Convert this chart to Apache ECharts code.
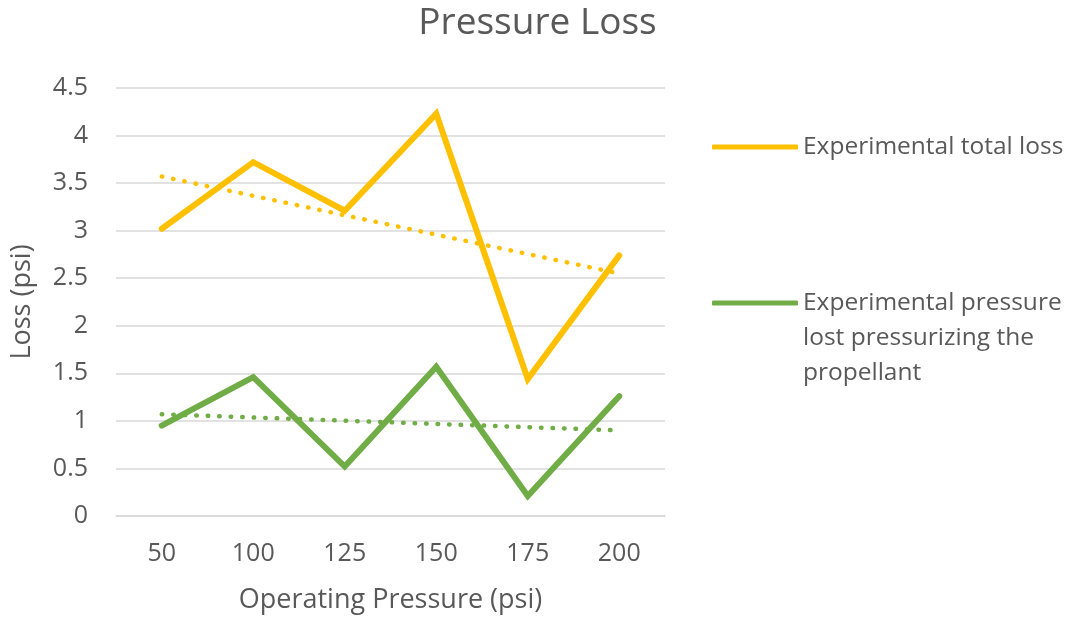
<!DOCTYPE html>
<html>
<head>
<meta charset="utf-8">
<script src="https://cdn.jsdelivr.net/npm/echarts@6/dist/echarts.min.js"></script>
<style>
html,body{margin:0;padding:0;background:#fff;}
#chart{width:1075px;height:619px;}
</style>
</head>
<body>
<div id="chart"></div>
<script>
var categories = ['50', '100', '125', '150', '175', '200'];
var totalLoss = [3.02, 3.72, 3.21, 4.23, 1.44, 2.74];
var propellantLoss = [0.95, 1.46, 0.52, 1.57, 0.21, 1.26];
// linear trendline endpoints (at first and last category)
var totalTrendEnds = [3.57, 2.55];
var propellantTrendEnds = [1.07, 0.90];
var yTicks = [0, 0.5, 1, 1.5, 2, 2.5, 3, 3.5, 4, 4.5];

var nameTotal = 'Experimental total loss';
var nameProp = 'Experimental pressure lost pressurizing the propellant';

function trendSeries(ends) {
  var d = categories.map(function(){ return null; });
  d[0] = ends[0];
  d[d.length - 1] = ends[1];
  return d;
}

var FONT = 'Open Sans';
var GREY = '#595959';
var ORANGE = '#FFC000';
var GREEN = '#70AD47';
var LEG_LH = 35;

var chart = echarts.init(document.getElementById('chart'));
chart.setOption({
  animation: false,
  backgroundColor: '#fff',
  textStyle: { fontFamily: FONT },
  title: {
    text: 'Pressure Loss',
    left: 'center',
    top: 0,
    textStyle: { fontFamily: FONT, fontSize: 37, fontWeight: 'normal', color: GREY }
  },
  legend: [{
    data: [nameTotal],
    left: 712,
    top: 147 - 15,
    padding: 0,
    icon: 'roundRect',
    itemWidth: 86,
    itemHeight: 5,
    textStyle: { fontFamily: FONT, fontSize: 24.5, color: GREY, lineHeight: 30 },
    selectedMode: false
  }, {
    data: [nameProp],
    left: 712,
    top: 301 - LEG_LH * 2.5 + 2,
    padding: 0,
    icon: 'roundRect',
    itemWidth: 86,
    itemHeight: 5,
    formatter: function(){ return '\n\nExperimental pressure\nlost pressurizing the\npropellant'; },
    textStyle: { fontFamily: FONT, fontSize: 24.5, color: GREY, lineHeight: LEG_LH },
    selectedMode: false
  }],
  grid: { left: 116, right: 410, top: 88, bottom: 103, containLabel: false },
  xAxis: {
    type: 'category',
    data: categories,
    boundaryGap: true,
    name: 'Operating Pressure (psi)',
    nameLocation: 'middle',
    nameGap: 71,
    nameTextStyle: { fontFamily: FONT, fontSize: 27, color: GREY },
    axisLine: { show: true, lineStyle: { color: '#d9d9d9', width: 1.5 } },
    axisTick: { show: false },
    axisLabel: { fontFamily: FONT, fontSize: 25, color: GREY, margin: 25 },
    splitLine: { show: false }
  },
  yAxis: {
    type: 'value',
    min: yTicks[0],
    max: yTicks[yTicks.length - 1],
    interval: 0.5,
    name: 'Loss (psi)',
    nameLocation: 'middle',
    nameGap: 80,
    nameTextStyle: { fontFamily: FONT, fontSize: 27, color: GREY },
    axisLine: { show: false },
    axisTick: { show: false },
    axisLabel: { fontFamily: FONT, fontSize: 25, color: GREY, margin: 28 },
    splitLine: { show: true, lineStyle: { color: '#d9d9d9', width: 1.5 } }
  },
  series: [{
    name: nameTotal,
    type: 'line',
    data: totalLoss,
    symbol: 'none',
    lineStyle: { color: ORANGE, width: 6, cap: 'round', join: 'miter' },
    itemStyle: { color: ORANGE },
    z: 3
  }, {
    name: nameProp,
    type: 'line',
    data: propellantLoss,
    symbol: 'none',
    lineStyle: { color: GREEN, width: 6, cap: 'round', join: 'miter' },
    itemStyle: { color: GREEN },
    z: 3
  }, {
    name: 'total trend',
    type: 'line',
    data: trendSeries(totalTrendEnds),
    connectNulls: true,
    symbol: 'none',
    lineStyle: { color: ORANGE, width: 4.5, type: [0.5, 11], cap: 'round' },
    itemStyle: { color: ORANGE },
    z: 2
  }, {
    name: 'propellant trend',
    type: 'line',
    data: trendSeries(propellantTrendEnds),
    connectNulls: true,
    symbol: 'none',
    lineStyle: { color: GREEN, width: 4.5, type: [0.5, 11], cap: 'round' },
    itemStyle: { color: GREEN },
    z: 2
  }]
});
</script>
</body>
</html>
